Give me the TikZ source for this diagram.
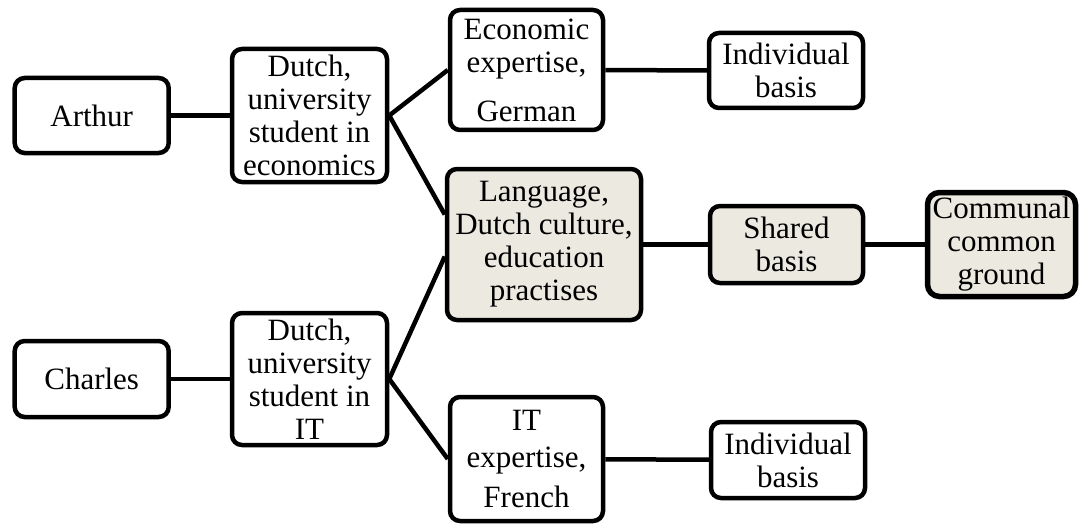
\documentclass[tikz,border=0pt]{standalone}
\usepackage{fontspec}
\setmainfont{Liberation Serif}
\usetikzlibrary{calc}
\definecolor{sharedfill}{RGB}{236,234,224}
\begin{document}
\begin{tikzpicture}[x=1pt,y=1pt,
  box/.style={draw, line width=4.5pt, rounded corners=10pt, align=center, inner sep=0pt, fill=white,
    font=\fontsize{31}{33}\selectfont},
  sharedbox/.style={box, fill=sharedfill},
  link/.style={line width=4.5pt}]
\useasboundingbox (0,0) rectangle (1081,-524);
\node[box, minimum width=154pt, minimum height=75pt] (arthur) at (91.7,-115.5) {Arthur};
\node[box, minimum width=155pt, minimum height=133pt] (d1) at (309.5,-115.5) {Dutch,\\university\\student in\\economics};
\node[box, minimum width=153pt, minimum height=120pt] (econ) at (526.5,-70) {Economic\\expertise,\\[16pt]German};
\node[box, minimum width=154pt, minimum height=75pt] (ind1) at (786,-70.5) {Individual\\basis};
\node[sharedbox, minimum width=194pt, minimum height=151pt] (lang) at (544,-244.5) {Language,\\Dutch culture,\\education\\practises};
\node[sharedbox, minimum width=153pt, minimum height=77pt] (shared) at (786.5,-244.5) {Shared\\basis};
\node[sharedbox, line width=5.5pt, rounded corners=12pt, minimum width=148pt, minimum height=104pt] (comm) at (1001.5,-244.5) {Communal\\common\\ground};
\node[box, minimum width=154pt, minimum height=76pt] (charles) at (91.7,-379) {Charles};
\node[box, minimum width=155pt, minimum height=132pt] (d2) at (309.5,-379) {Dutch,\\university\\student in\\IT};
\node[box, minimum width=153pt, minimum height=124pt] (it) at (526.5,-459) {IT\\[4pt]expertise,\\[7pt]French};
\node[box, minimum width=154pt, minimum height=76pt] (ind2) at (788,-460) {Individual\\basis};

\draw[link] (arthur) -- (d1);
\draw[link] (charles) -- (d2);
\draw[link] (d1.east) -- (econ.west);
\draw[link] (d1.east) -- ($(lang.west)+(0,30)$);
\draw[link] (d2.east) -- ($(lang.west)+(0,-12)$);
\draw[link] (d2.east) -- (it.west);
\draw[link] (econ) -- (ind1);
\draw[link] (lang) -- (shared);
\draw[link] (shared) -- (comm);
\draw[link] (it) -- (ind2);
\end{tikzpicture}
\end{document}
